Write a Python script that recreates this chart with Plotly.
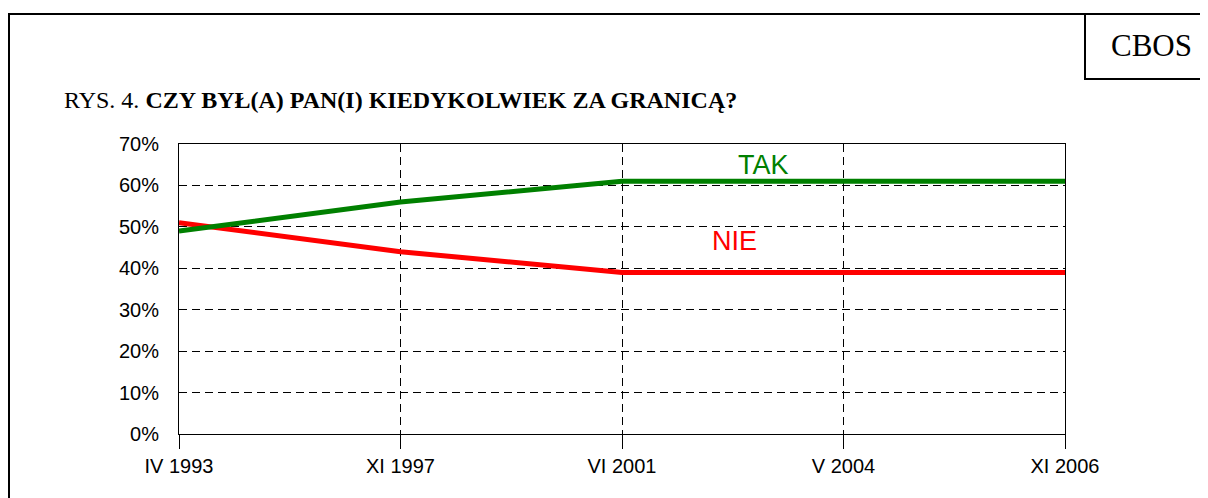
import plotly.graph_objects as go

categories = ["IV 1993", "XI 1997", "VI 2001", "V 2004", "XI 2006"]
tak = [49, 56, 61, 61, 61]
nie = [51, 44, 39, 39, 39]
y_ticks = [0, 10, 20, 30, 40, 50, 60, 70]
y_tick_labels = [f"{v}%" for v in y_ticks]

OFF = 8  # page body margin
W, H = 1208 - OFF, 498 - OFF
# plot area in page pixels
L, R, T, B = 179, 1065, 144, 434

def px2paper_x(px):
    return (px - L) / (R - L)

def px2paper_y(py):
    return (B - py) / (B - T)

fig = go.Figure()
fig.add_trace(go.Scatter(x=categories, y=nie, mode="lines", name="NIE",
                         line=dict(color="#ff0000", width=5), showlegend=False))
fig.add_trace(go.Scatter(x=categories, y=tak, mode="lines", name="TAK",
                         line=dict(color="#008000", width=5), showlegend=False))

fig.update_layout(
    width=W, height=H,
    margin=dict(l=L - OFF, r=(W + OFF) - R, t=T - OFF, b=(H + OFF) - B, pad=0),
    paper_bgcolor="white", plot_bgcolor="white",
    font=dict(family="Liberation Sans, Arial", size=20, color="black"),
    xaxis=dict(
        type="category", range=[0, 4],
        showgrid=True, gridcolor="black", gridwidth=1, griddash="8px,5px",
        showline=True, linecolor="black", linewidth=1, mirror=True,
        ticks="outside", ticklen=14, tickcolor="black", tickwidth=1,
        tickfont=dict(size=20), zeroline=False,
    ),
    yaxis=dict(
        range=[0, 70], tickvals=y_ticks, ticktext=y_tick_labels,
        showgrid=True, gridcolor="black", gridwidth=1, griddash="8px,5px",
        showline=True, linecolor="black", linewidth=1, mirror=True,
        ticks="", ticklabelstandoff=15, tickfont=dict(size=20), zeroline=False,
    ),
    shapes=[
        dict(type="rect", xref="paper", yref="paper",
             x0=px2paper_x(9), x1=px2paper_x(1240), y0=px2paper_y(530), y1=px2paper_y(14),
             line=dict(color="black", width=2), fillcolor="rgba(0,0,0,0)", layer="below"),
        dict(type="rect", xref="paper", yref="paper",
             x0=px2paper_x(1085), x1=px2paper_x(1240), y0=px2paper_y(79), y1=px2paper_y(14),
             line=dict(color="black", width=2), fillcolor="rgba(0,0,0,0)", layer="below"),
    ],
    annotations=[
        dict(text="TAK", x=2.64, y=65.0, xref="x", yref="y", showarrow=False,
             font=dict(size=27, color="#008000", family="Liberation Sans, Arial")),
        dict(text="NIE", x=2.51, y=46.5, xref="x", yref="y", showarrow=False,
             font=dict(size=27, color="#ff0000", family="Liberation Sans, Arial")),
        dict(text="RYS. 4. <b>CZY BYŁ(A) PAN(I) KIEDYKOLWIEK ZA GRANICĄ?</b>",
             x=px2paper_x(62), y=px2paper_y(100), xref="paper", yref="paper",
             xanchor="left", yanchor="middle", showarrow=False,
             font=dict(size=24, color="black", family="Liberation Serif, Times New Roman")),
        dict(text="CBOS", x=px2paper_x(1151), y=px2paper_y(45), xref="paper", yref="paper",
             xanchor="center", yanchor="middle", showarrow=False,
             font=dict(size=31, color="black", family="Liberation Serif, Times New Roman")),
    ],
)

fig.write_html("out.html")
